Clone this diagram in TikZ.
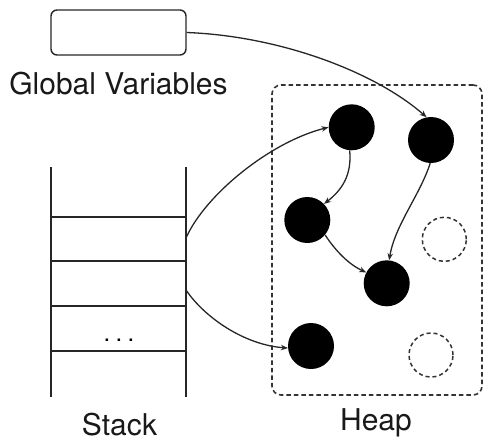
\documentclass[tikz,border=0pt]{standalone}
\usepackage{fontspec}
\setmainfont{TeX Gyre Heros}
\usetikzlibrary{arrows.meta}
\begin{document}
\begin{tikzpicture}[x=1pt,y=-1pt,
  ln/.style={draw=black!85,line width=1.4pt},
  conn/.style={draw=black!85,line width=1.3pt,-{Stealth[length=7pt,width=5.5pt]}},
  obj/.style={circle,fill=black,minimum size=46pt,inner sep=0pt},
  freeobj/.style={circle,draw=black!80,line width=1.5pt,dash pattern=on 4pt off 3pt,minimum size=44pt,inner sep=0pt},
  lbl/.style={font=\fontsize{30}{33}\selectfont,inner sep=0pt,text=black!90}]
\useasboundingbox (0,0) rectangle (494,442);
% global variables box
\node[draw=black!85,line width=1.4pt,rounded corners=6pt,minimum width=135pt,minimum height=45pt,inner sep=0pt] (gv) at (118.5,32.5) {};
\node[lbl,anchor=base] (gvl) at (118.5,94) {Global Variables};
% stack
\draw[ln] (51,167) -- (51,397);
\draw[ln] (186,167) -- (186,397);
\foreach \yy in {217,261,306,351} \draw[ln] (51,\yy) -- (186,\yy);
\node[font=\fontsize{24}{26}\selectfont,inner sep=0pt,anchor=base] (dots) at (119,341) {.\hspace{5.3pt}.\hspace{5.3pt}.};
\node[lbl,anchor=base] (stk) at (119.5,435) {Stack};
\coordinate (s1) at (186,238);
\coordinate (s2) at (186,290);
% heap
\node[draw=black!80,line width=1.6pt,dash pattern=on 4.5pt off 3pt,rounded corners=9pt,minimum width=210pt,minimum height=310pt,inner sep=0pt] (heap) at (377,240) {};
\node[lbl,anchor=base] (hl) at (376,430) {Heap};
\node[obj] (A) at (351.7,127.3) {};
\node[obj] (B) at (431,140) {};
\node[obj] (C) at (307.3,220) {};
\node[obj] (D) at (386.7,283.3) {};
\node[obj] (E) at (311,346) {};
\node[freeobj] (F) at (444.3,239.3) {};
\node[freeobj] (G) at (431,355) {};
% connectors
\draw[conn] (gv.east) .. controls (280,36) and (375,72) .. (B.101);
\draw[conn] (s1) .. controls (205,195) and (270,142) .. (A.180);
\draw[conn] (s2) .. controls (205,318) and (245,345) .. (E.185);
\draw[conn] (A.265) .. controls (352,175) and (342,190) .. (C.44);
\draw[conn] (C.-40) .. controls (335,250) and (348,264) .. (D.152);
\draw[conn] (B.268) .. controls (420,195) and (395,225) .. (D.84);
\end{tikzpicture}
\end{document}
